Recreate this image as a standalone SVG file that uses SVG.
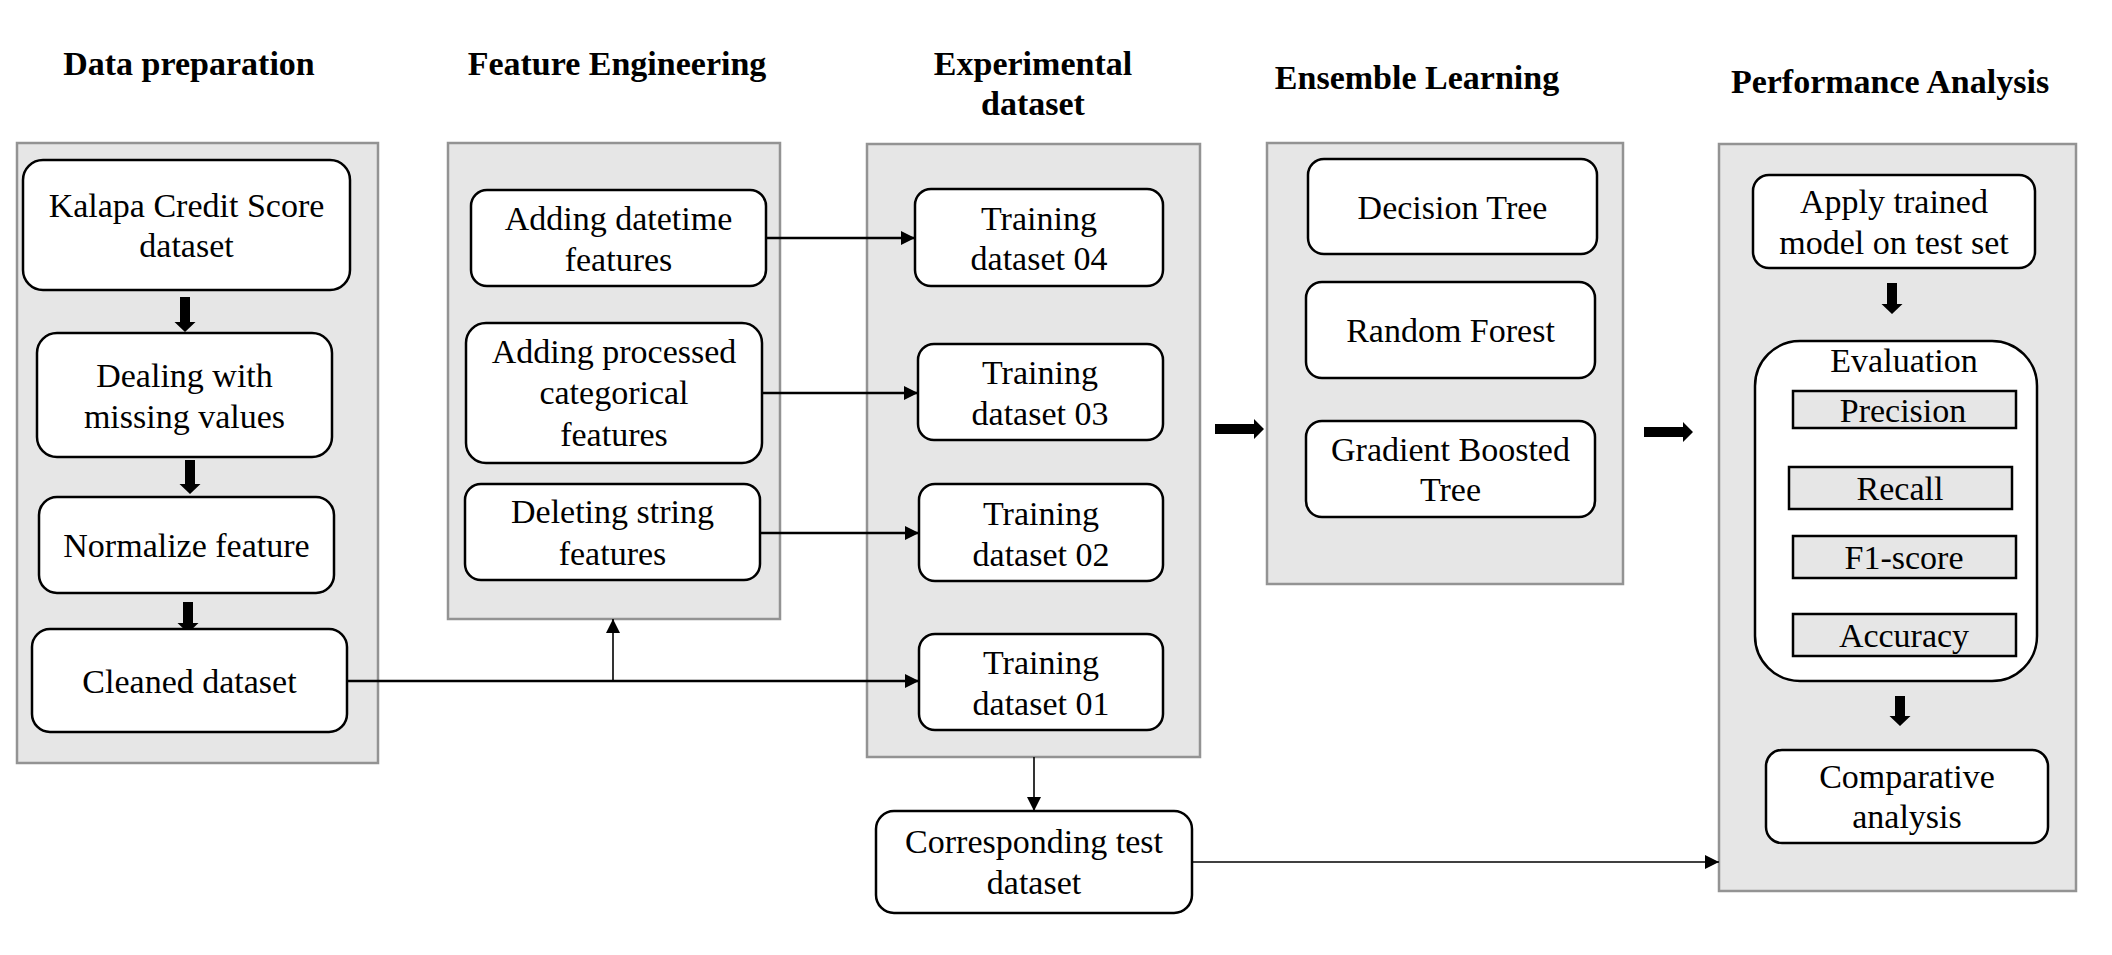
<svg xmlns="http://www.w3.org/2000/svg" width="2112" height="955" viewBox="0 0 2112 955">
<style>
text{font-family:"Liberation Serif","Times New Roman",serif;font-size:34px;fill:#000;text-anchor:middle}
.h{font-weight:bold}
.panel{fill:#e6e6e6;stroke:#939393;stroke-width:2.5}
.node{fill:#fff;stroke:#000;stroke-width:2.5}
.metric{fill:#e6e6e6;stroke:#000;stroke-width:2.5}
.conn{fill:none;stroke:#000;stroke-width:2.6}
.thin{fill:none;stroke:#000;stroke-width:1.6}
.thick{fill:#000;stroke:none}
</style>
<defs>
<marker id="ah" viewBox="0 0 14 14" refX="14" refY="7" markerWidth="14" markerHeight="14" markerUnits="userSpaceOnUse" orient="auto">
<path d="M0,0 L14,7 L0,14 Z" fill="#000"/>
</marker>
<marker id="ahs" viewBox="0 0 14 14" refX="14" refY="7" markerWidth="14" markerHeight="14" markerUnits="userSpaceOnUse" orient="auto">
<path d="M0,0 L14,7 L0,14 Z" fill="#000"/>
</marker>
</defs>
<rect width="2112" height="955" fill="#fff"/>

<g id="headings">
<text class="h" x="189" y="75">Data preparation</text>
<text class="h" x="617" y="75">Feature Engineering</text>
<text class="h" x="1033" y="75">Experimental</text>
<text class="h" x="1033" y="115">dataset</text>
<text class="h" x="1417" y="89">Ensemble Learning</text>
<text class="h" x="1890" y="93">Performance Analysis</text>
</g>

<g id="panels">
<rect id="panel-data-prep" class="panel" x="17" y="143" width="361" height="620"/>
<rect id="panel-feature-eng" class="panel" x="448" y="143" width="332" height="476"/>
<rect id="panel-experimental" class="panel" x="867" y="144" width="333" height="613"/>
<rect id="panel-ensemble" class="panel" x="1267" y="143" width="356" height="441"/>
<rect id="panel-performance" class="panel" x="1719" y="144" width="357" height="747"/>
</g>

<g id="connectors">
<path class="conn" d="M347,681 H919" marker-end="url(#ah)"/>
<path class="thin" d="M613,681 V619" marker-end="url(#ahs)"/>
<path class="conn" d="M766,238 H915" marker-end="url(#ah)"/>
<path class="conn" d="M762,393 H918" marker-end="url(#ah)"/>
<path class="conn" d="M760,533 H919" marker-end="url(#ah)"/>
<path class="thin" d="M1034,757 V811" marker-end="url(#ahs)"/>
<path class="thin" d="M1192,862 H1719" marker-end="url(#ahs)"/>
<path class="thick" d="M1215,424 H1254 V419 L1264,429 L1254,439 V434 H1215 Z"/>
<path class="thick" d="M1644,427 H1683 V422 L1693,432 L1683,442 V437 H1644 Z"/>
<path class="thick" d="M180,297 H190 V322 H195.5 L185,332 L174.5,322 H180 Z"/>
<path class="thick" d="M185,460 H195 V484 H200.5 L190,494 L179.5,484 H185 Z"/>
<path class="thick" d="M183,602 H193 V623 H198.5 L188,633 L177.5,623 H183 Z"/>
<path class="thick" d="M1887,283 H1897 V304 H1902.5 L1892,314 L1881.5,304 H1887 Z"/>
<path class="thick" d="M1895,696 H1905 V716 H1910.5 L1900,726 L1889.5,716 H1895 Z"/>
</g>

<g id="kalapa">
<rect class="node" x="23" y="160" width="327" height="130" rx="20"/>
<text x="186.5" y="217">Kalapa Credit Score</text>
<text x="186.5" y="257">dataset</text>
</g>
<g id="missing">
<rect class="node" x="37" y="333" width="295" height="124" rx="20"/>
<text x="184.5" y="387">Dealing with</text>
<text x="184.5" y="428">missing values</text>
</g>
<g id="normalize">
<rect class="node" x="39" y="497" width="295" height="96" rx="18"/>
<text x="186.5" y="557">Normalize feature</text>
</g>
<g id="cleaned">
<rect class="node" x="32" y="629" width="315" height="103" rx="18"/>
<text x="189.5" y="693">Cleaned dataset</text>
</g>

<g id="datetime">
<rect class="node" x="471" y="190" width="295" height="96" rx="16"/>
<text x="618.5" y="230">Adding datetime</text>
<text x="618.5" y="271">features</text>
</g>
<g id="processed">
<rect class="node" x="466" y="323" width="296" height="140" rx="20"/>
<text x="614" y="363">Adding processed</text>
<text x="614" y="404">categorical</text>
<text x="614" y="446">features</text>
</g>
<g id="deleting">
<rect class="node" x="465" y="484" width="295" height="96" rx="16"/>
<text x="612.5" y="523">Deleting string</text>
<text x="612.5" y="565">features</text>
</g>

<g id="train04">
<rect class="node" x="915" y="189" width="248" height="97" rx="16"/>
<text x="1039" y="230">Training</text>
<text x="1039" y="270">dataset 04</text>
</g>
<g id="train03">
<rect class="node" x="918" y="344" width="245" height="96" rx="16"/>
<text x="1040" y="384">Training</text>
<text x="1040" y="425">dataset 03</text>
</g>
<g id="train02">
<rect class="node" x="919" y="484" width="244" height="97" rx="16"/>
<text x="1041" y="525">Training</text>
<text x="1041" y="566">dataset 02</text>
</g>
<g id="train01">
<rect class="node" x="919" y="634" width="244" height="96" rx="16"/>
<text x="1041" y="674">Training</text>
<text x="1041" y="715">dataset 01</text>
</g>
<g id="testset">
<rect class="node" x="876" y="811" width="316" height="102" rx="18"/>
<text x="1034" y="853">Corresponding test</text>
<text x="1034" y="894">dataset</text>
</g>

<g id="decision-tree">
<rect class="node" x="1308" y="159" width="289" height="95" rx="16"/>
<text x="1452.5" y="219">Decision Tree</text>
</g>
<g id="random-forest">
<rect class="node" x="1306" y="282" width="289" height="96" rx="16"/>
<text x="1450.5" y="342">Random Forest</text>
</g>
<g id="gbt">
<rect class="node" x="1306" y="421" width="289" height="96" rx="16"/>
<text x="1450.5" y="461">Gradient Boosted</text>
<text x="1450.5" y="501">Tree</text>
</g>

<g id="apply">
<rect class="node" x="1753" y="175" width="282" height="93" rx="16"/>
<text x="1894" y="213">Apply trained</text>
<text x="1894" y="254">model on test set</text>
</g>
<g id="evaluation">
<rect class="node" x="1755" y="341" width="282" height="340" rx="45"/>
<text x="1904" y="372">Evaluation</text>
<rect class="metric" x="1793" y="391" width="223" height="37"/>
<text x="1903" y="422">Precision</text>
<rect class="metric" x="1789" y="467" width="223" height="42"/>
<text x="1900" y="500">Recall</text>
<rect class="metric" x="1793" y="536" width="223" height="42"/>
<text x="1904" y="569">F1-score</text>
<rect class="metric" x="1793" y="614" width="223" height="42"/>
<text x="1904" y="647">Accuracy</text>
</g>
<g id="comparative">
<rect class="node" x="1766" y="750" width="282" height="93" rx="16"/>
<text x="1907" y="788">Comparative</text>
<text x="1907" y="828">analysis</text>
</g>
</svg>
